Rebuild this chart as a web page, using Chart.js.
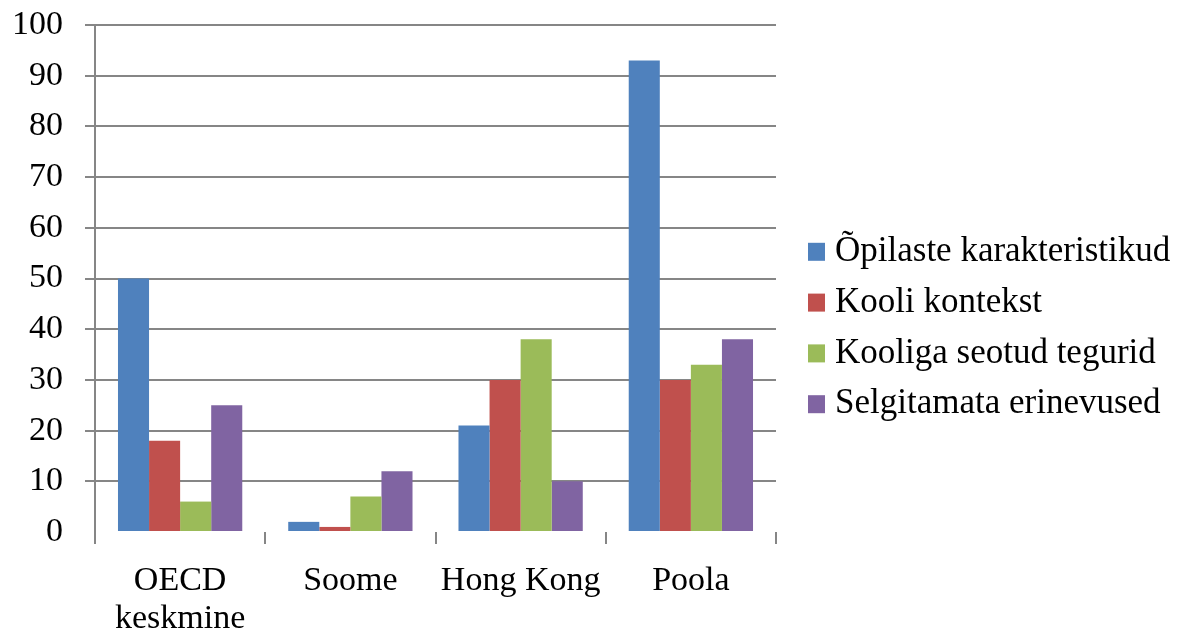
<!DOCTYPE html>
<html>
<head>
<meta charset="utf-8">
<script src="https://cdn.jsdelivr.net/npm/chart.js@4"></script>
<style>
  html, body { margin: 0; padding: 0; background: #fff; }
</style>
</head>
<body>
<canvas id="graafik" width="1186" height="636"></canvas>
<script>
// Andmed
const kategooriad = [['OECD', 'keskmine'], 'Soome', 'Hong Kong', 'Poola'];
const opilasteKarakteristikud = [50, 2, 21, 93];
const kooliKontekst = [18, 1, 30, 30];
const kooligaSeotud = [6, 7, 38, 33];
const selgitamata = [25, 12, 10, 38];
const seeriad = ['Õpilaste karakteristikud', 'Kooli kontekst', 'Kooliga seotud tegurid', 'Selgitamata erinevused'];
const varvid = ['#4F81BD', '#C0504D', '#9BBB59', '#8064A2'];

const font = { family: '"Liberation Serif", serif', size: 34 };
const joon = '#868686';

// Legend paremal, joonistatakse ise (sisseehitatud legend ei mahu nii laiana)
const legendPlugin = {
    id: 'legendParemal',
    afterDraw(chart) {
        const c = chart.ctx;
        const sets = chart.data.datasets;
        const rida = 50.8;
        const kesk = 328;
        c.save();
        c.font = `35px ${font.family}`;
        c.textBaseline = 'middle';
        c.textAlign = 'left';
        sets.forEach((ds, i) => {
            const y = kesk + (i - (sets.length - 1) / 2) * rida;
            c.fillStyle = ds.backgroundColor;
            c.fillRect(808, y - 9, 17, 18);
            c.fillStyle = '#000';
            c.fillText(ds.label, 835, y);
        });
        c.restore();
    }
};

const ctx = document.getElementById('graafik').getContext('2d');
new Chart(ctx, {
    type: 'bar',
    data: {
        labels: kategooriad,
        datasets: [opilasteKarakteristikud, kooliKontekst, kooligaSeotud, selgitamata].map((d, i) => ({
            label: seeriad[i],
            data: d,
            backgroundColor: varvid[i],
            borderWidth: 0,
            categoryPercentage: 0.73,
            barPercentage: 1.0
        }))
    },
    options: {
        responsive: false,
        devicePixelRatio: 1,
        animation: false,
        layout: { padding: { top: 25, left: 0, right: 410, bottom: 0 } },
        plugins: {
            tooltip: { enabled: false },
            legend: { display: false }
        },
        scales: {
            x: {
                grid: { offset: true, drawOnChartArea: false, tickLength: 12, color: joon, lineWidth: 2 },
                border: { display: false },
                ticks: { font: { ...font, lineHeight: 1.12 }, color: '#000', padding: 18, maxRotation: 0 },
                afterFit: s => { s.height = 104; s.paddingLeft = 0; s.paddingRight = 0; }
            },
            y: {
                min: 0,
                max: 100,
                ticks: { stepSize: 10, font: font, color: '#000', padding: 22 },
                grid: {
                    tickLength: 10,
                    lineWidth: 2,
                    color: c => (c.tick && c.tick.value === 0) ? 'rgba(0,0,0,0)' : joon
                },
                border: { display: true, color: joon, width: 2 },
                afterFit: s => { s.width = 95; s.paddingTop = 0; s.paddingBottom = 0; }
            }
        }
    },
    plugins: [legendPlugin]
});
</script>
</body>
</html>
